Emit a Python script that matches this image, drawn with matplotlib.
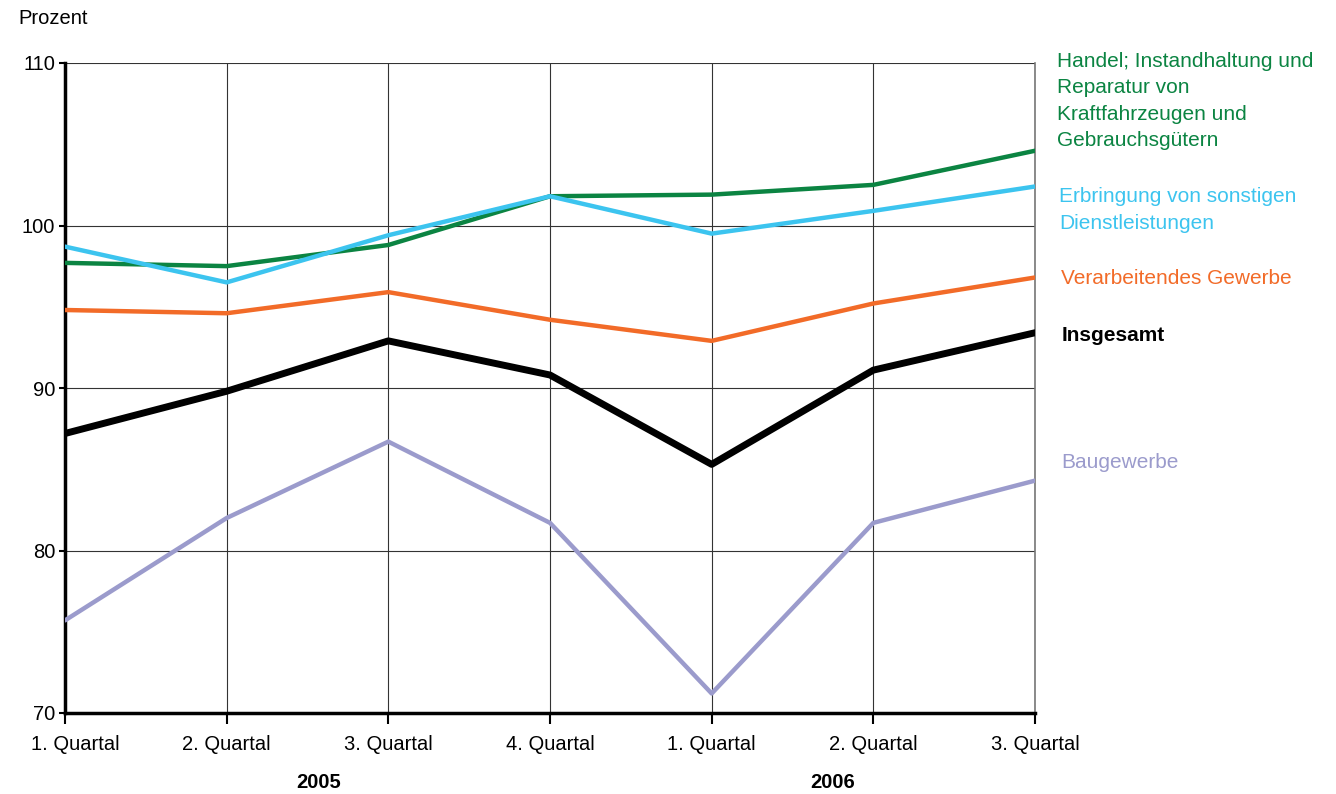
import matplotlib
matplotlib.use("Agg")
import matplotlib.pyplot as plt
from matplotlib.transforms import ScaledTranslation

plt.rcParams['font.family'] = ['Liberation Sans', 'DejaVu Sans']

quarters = ["1. Quartal", "2. Quartal", "3. Quartal", "4. Quartal", "1. Quartal", "2. Quartal", "3. Quartal"]
years = ["2005", "2006"]
handel = [97.7, 97.5, 98.8, 101.8, 101.9, 102.5, 104.6]
dienst = [98.7, 96.5, 99.4, 101.8, 99.5, 100.9, 102.4]
verarb = [94.8, 94.6, 95.9, 94.2, 92.9, 95.2, 96.8]
gesamt = [87.2, 89.8, 92.9, 90.8, 85.3, 91.1, 93.4]
bau = [75.7, 82.0, 86.7, 81.7, 71.2, 81.7, 84.3]

fs = 14.5
fig = plt.figure(figsize=(13.36, 7.94), dpi=100)
ax = fig.add_axes([65/1336, 1-713/794, 970/1336, 650/794])
x = range(len(quarters))

ax.plot(x, bau, color="#9b9bcc", lw=3.2, solid_capstyle="round", zorder=3)
ax.plot(x, verarb, color="#f26b28", lw=3.2, solid_capstyle="round", zorder=3)
ax.plot(x, handel, color="#0b8442", lw=3.2, solid_capstyle="round", zorder=3)
ax.plot(x, dienst, color="#3cc4ef", lw=3.2, solid_capstyle="round", zorder=3)
ax.plot(x, gesamt, color="black", lw=5, solid_capstyle="round", zorder=4)

ax.set_xlim(0, 6)
ax.set_ylim(70, 110)
ax.set_yticks([70, 80, 90, 100, 110])
ax.set_xticks(list(x))
ax.set_xticklabels(quarters, fontsize=fs)
ax.tick_params(axis="y", labelsize=fs, length=4, width=1.5, pad=3)
ax.tick_params(axis="x", direction="out", length=8, width=1.5, pad=8)
# first label sits a bit to the right like in the original
first = ax.get_xticklabels()[0]
first.set_transform(first.get_transform() + ScaledTranslation(10/100, 0, fig.dpi_scale_trans))
ax.grid(True, color="#333333", lw=0.8, zorder=1)
ax.spines["left"].set_linewidth(2.5)
ax.spines["bottom"].set_linewidth(2.5)
ax.spines["top"].set_visible(False)
ax.spines["right"].set_color("#777777")
ax.spines["right"].set_linewidth(1.2)

fig.text(18/1336, 1-18/794, "Prozent", fontsize=fs, va="center")
fig.text(319/1336, 1-782/794, years[0], fontsize=fs, fontweight="bold", ha="center", va="center")
fig.text(833/1336, 1-782/794, years[1], fontsize=fs, fontweight="bold", ha="center", va="center")

lab = dict(fontsize=15, va="center", linespacing=1.5)
fig.text(1057/1336, 1-101/794, "Handel; Instandhaltung und\nReparatur von\nKraftfahrzeugen und\nGebrauchsgütern", color="#0b8442", **lab)
fig.text(1059/1336, 1-210/794, "Erbringung von sonstigen\nDienstleistungen", color="#3cc4ef", **lab)
fig.text(1061/1336, 1-279/794, "Verarbeitendes Gewerbe", color="#f26b28", **lab)
fig.text(1062/1336, 1-336/794, "Insgesamt", color="black", fontweight="bold", **lab)
fig.text(1061/1336, 1-462/794, "Baugewerbe", color="#9b9bcc", **lab)

fig.savefig("out.png", dpi=100)
